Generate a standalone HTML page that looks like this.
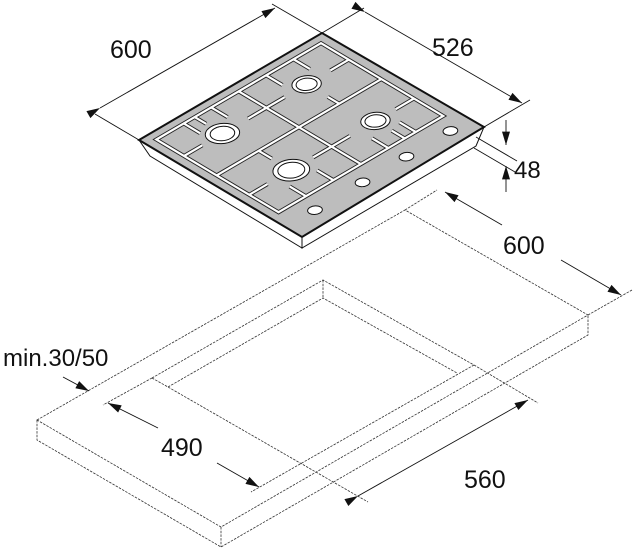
<!DOCTYPE html>
<html><head><meta charset="utf-8"><style>
html,body{margin:0;padding:0;background:#fff;}
svg{display:block;}
text{font-family:"Liberation Sans",sans-serif;fill:#111;}
</style></head><body>
<svg width="633" height="550" viewBox="0 0 633 550" xmlns="http://www.w3.org/2000/svg">
<defs>
<marker id="ar" viewBox="0 0 10 6" refX="10" refY="3" markerWidth="17" markerHeight="8" markerUnits="userSpaceOnUse" orient="auto">
<path d="M0,0 L10,3 L0,6 z" fill="#111"/></marker>
</defs>
<!-- countertop -->
<g fill="none" stroke="#333" stroke-width="0.8" stroke-dasharray="2.5,1.2">
<path d="M37,420 L405,210 L588,315 L221,527 Z"/>
<path d="M37,420 L37,440 L221,547 L588,335 L588,315"/>
<path d="M221,527 L221,547"/>
<path d="M152,378 L323,280 L474,365"/>
<path d="M323,280 L323,298"/>
<path d="M168,387 L323,298 L457,373"/>
<path d="M152,378 L103,405"/>
<path d="M474,365 L251,492"/>
<path d="M152,378 L168,387 L368,502"/>
<path d="M474,365 L538,403"/>
<path d="M405,210 L437,190"/>
<path d="M588,315 L632,290"/>
</g>
<!-- hob sides -->
<path d="M139,140 L302,237 L302,248 L150,156 Z" fill="#fff" stroke="#111" stroke-width="1"/>
<path d="M302,237 L484,127 L476,146 L302,248 Z" fill="#fff" stroke="#111" stroke-width="1"/>
<!-- hob top -->
<path d="M139,140 L322,33 L484,127 L302,237 Z" fill="#bdbdbd" stroke="#111" stroke-width="2"/>
<g transform="matrix(1.83,-1.07,1.63,0.97,139,140)">
<g fill="none" stroke="#222" stroke-width="4" stroke-linecap="butt">
<path vector-effect="non-scaling-stroke" d="M5,5 L95,5 L95,80 L5,80 Z M50,5 L50,80 M5,42 L95,42 M20,5 L20,15 M35,5 L35,15 M65,5 L65,15 M80,5 L80,15 M20,80 L20,70 M35,80 L35,70 M65,80 L65,70 M80,80 L80,70 M5,22 L15,22 M95,22 L85,22 M5,62 L15,62 M95,62 L85,62 M50,22 L40,22 M50,62 L60,62 M50,22 L60,22 M50,62 L40,62 M26,5 L26,12 M72,42 L72,35 M28,42 L28,50 M74,80 L74,72"/>
</g>
<g fill="none" stroke="#fff" stroke-width="2.2" stroke-linecap="butt">
<path vector-effect="non-scaling-stroke" d="M5,5 L95,5 L95,80 L5,80 Z M50,5 L50,80 M5,42 L95,42 M20,5 L20,15 M35,5 L35,15 M65,5 L65,15 M80,5 L80,15 M20,80 L20,70 M35,80 L35,70 M65,80 L65,70 M80,80 L80,70 M5,22 L15,22 M95,22 L85,22 M5,62 L15,62 M95,62 L85,62 M50,22 L40,22 M50,62 L60,62 M50,22 L60,22 M50,62 L40,62 M26,5 L26,12 M72,42 L72,35 M28,42 L28,50 M74,80 L74,72"/>
</g>
<g fill="#fff" stroke="#111" stroke-width="1">
<circle vector-effect="non-scaling-stroke" cx="26" cy="22" r="7"/>
<circle vector-effect="non-scaling-stroke" cx="26" cy="22" r="5"/>
<circle vector-effect="non-scaling-stroke" cx="72" cy="22" r="6"/>
<circle vector-effect="non-scaling-stroke" cx="72" cy="22" r="4.3"/>
<circle vector-effect="non-scaling-stroke" cx="74" cy="62" r="6"/>
<circle vector-effect="non-scaling-stroke" cx="74" cy="62" r="4.3"/>
<circle vector-effect="non-scaling-stroke" cx="28" cy="62" r="7.5"/>
<circle vector-effect="non-scaling-stroke" cx="28" cy="62" r="5.5"/>
<circle vector-effect="non-scaling-stroke" cx="16" cy="90" r="3"/>
<circle vector-effect="non-scaling-stroke" cx="42" cy="90" r="3"/>
<circle vector-effect="non-scaling-stroke" cx="66" cy="90" r="3"/>
<circle vector-effect="non-scaling-stroke" cx="90" cy="90" r="3"/>
</g>
</g>
<!-- dimension lines -->
<g stroke="#111" stroke-width="0.9" fill="none">
<path d="M139,140 L95,114"/><path d="M322,33 L272,4"/>
<path d="M322,33 L364,8"/><path d="M484,127 L530,100"/>
<path d="M100,108 L275,8" marker-start="url(#ar)" marker-end="url(#ar)"/>
<path d="M365,12 L522,103" marker-start="url(#ar)" marker-end="url(#ar)"/>
<path d="M476,137 L517,161"/><path d="M474,148 L515,172"/>
<path d="M506,120 L506,145" marker-end="url(#ar)"/>
<path d="M506,192 L506,166" marker-end="url(#ar)"/>
<path d="M502,225 L445,192" marker-end="url(#ar)"/>
<path d="M561,260 L621,295" marker-end="url(#ar)"/>
<path d="M63,377 L89,391" marker-end="url(#ar)"/>
<path d="M158,428 L108,403" marker-end="url(#ar)"/>
<path d="M217,463 L259,487" marker-end="url(#ar)"/>
<path d="M358,496 L528,400" marker-start="url(#ar)" marker-end="url(#ar)"/>
</g>
<text x="110" y="58" font-size="25">600</text>
<text x="432" y="56" font-size="25">526</text>
<text x="514" y="178" font-size="24">48</text>
<text x="503" y="254" font-size="25">600</text>
<text x="3" y="366" font-size="24">min.30/50</text>
<text x="161" y="456" font-size="25">490</text>
<text x="464" y="488" font-size="25">560</text>
</svg>
</body></html>
